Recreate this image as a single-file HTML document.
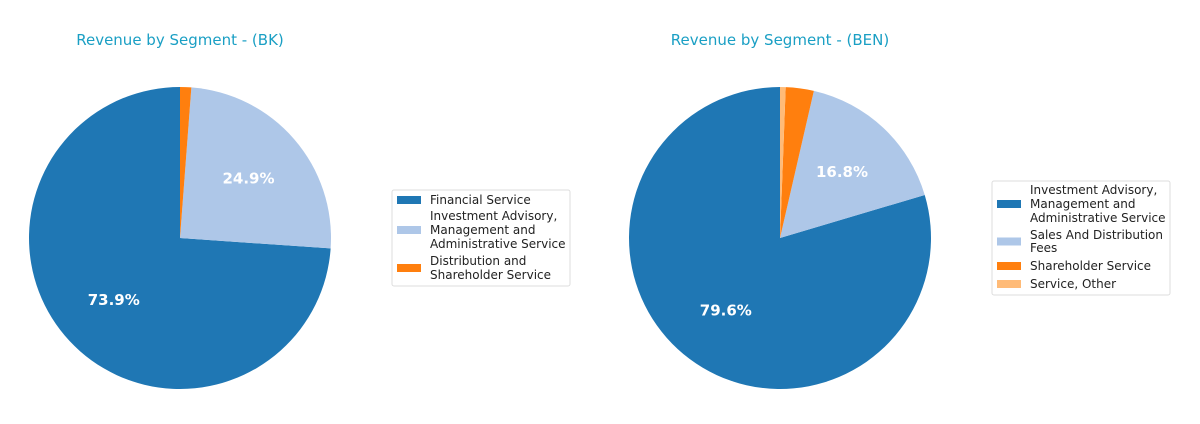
<!DOCTYPE html>
<html><head><meta charset="utf-8"><style>
body{margin:0;background:#fff;}
svg text{font-family:"DejaVu Sans","Liberation Sans",sans-serif;}
</style></head><body>
<svg id="c" width="1200" height="419" xmlns="http://www.w3.org/2000/svg">
<rect width="1200" height="419" fill="#fff"/>
</svg>
<script>
const bkLabels=["Financial Service","Investment Advisory, Management and Administrative Service","Distribution and Shareholder Service"];
const bkValues=[73.9,24.9,1.2];
const benLabels=["Investment Advisory, Management and Administrative Service","Sales And Distribution Fees","Shareholder Service","Service, Other"];
const benValues=[79.6,16.8,3.0,0.6];
const colors=["#1f77b4","#aec7e8","#ff7f0e","#ffbb78"];
const NS="http://www.w3.org/2000/svg";
const svg=document.getElementById('c');
function mk(tag,attrs,parent){const e=document.createElementNS(NS,tag);for(const k in attrs)e.setAttribute(k,attrs[k]);(parent||svg).appendChild(e);return e;}
function pie(cx,cy,r,vals,title,key){
  const g=mk('g',{});
  
  
  const t=mk('text',{x:cx,y:45,'text-anchor':'middle','font-size':15,fill:'#1a9fc4'},g);
  t.textContent=title;
  
  
  const tot=vals.reduce((a,b)=>a+b,0);
  let a=90;
  vals.forEach((v,i)=>{
    const sw=v/tot*360,a2=a+sw;
    const p1=[cx+r*Math.cos(a*Math.PI/180),cy-r*Math.sin(a*Math.PI/180)];
    const p2=[cx+r*Math.cos(a2*Math.PI/180),cy-r*Math.sin(a2*Math.PI/180)];
    const d=`M${cx},${cy}L${p1[0]},${p1[1]}A${r},${r} 0 ${sw>180?1:0} 0 ${p2[0]},${p2[1]}Z`;
    const s=mk('path',{d:d,fill:colors[i]},g);
    
    
    if(v/tot>0.1){
      const m=(a+sw/2)*Math.PI/180;
      const l=mk('text',{x:cx+0.6*r*Math.cos(m),y:cy-0.6*r*Math.sin(m)+5,'text-anchor':'middle','font-size':15,'font-weight':'bold',fill:'#fff'},g);
      l.textContent=(v/tot*100).toFixed(1)+'%';
      
      
    }
    a=a2;
  });
}
function legend(x,y,w,h,labels,lines,key){
  const g=mk('g',{});
  
  
  mk('rect',{x:x,y:y,width:w,height:h,fill:'#fff',stroke:'#ddd',rx:2},g);
  lines.forEach((ls,i)=>{
    const mid=(ls[0]+ls[ls.length-1])/2;
    const p=mk('rect',{x:x+5,y:mid-4,width:24,height:8,fill:colors[i]},g);
    
    
    const parts=splitLabel(labels[i],ls.length);
    parts.forEach((s,j)=>{
      const t=mk('text',{x:x+38,y:ls[j]+4,'font-size':12,fill:'#222'},g);
      t.textContent=s;
      
      
    });
  });
}
function splitLabel(l,n){
  const map={"Investment Advisory, Management and Administrative Service":["Investment Advisory,","Management and","Administrative Service"],
  "Distribution and Shareholder Service":["Distribution and","Shareholder Service"],
  "Sales And Distribution Fees":["Sales And Distribution","Fees"]};
  return n>1&&map[l]?map[l]:[l];
}
pie(180,238,151,bkValues,"Revenue by Segment - (BK)","bk");
pie(780,238,151,benValues,"Revenue by Segment - (BEN)","ben");
legend(392,190,178,96,bkLabels,[[200],[216,230,244],[261,275]],"bk");
legend(992,181,178,114,benLabels,[[190,204,218],[235,248],[266],[284]],"ben");
</script>
</body></html>
